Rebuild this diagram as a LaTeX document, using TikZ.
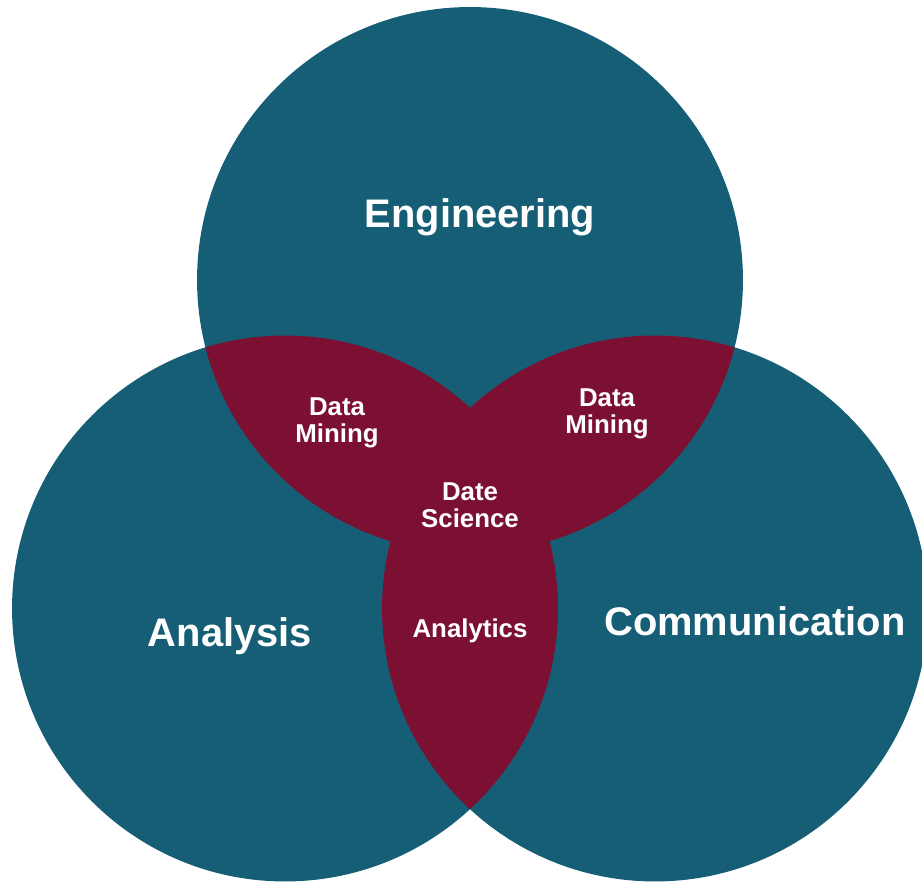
\documentclass[tikz,border=0pt]{standalone}
\usepackage{fontspec}
\setmainfont{Liberation Sans}
\definecolor{venteal}{HTML}{165E75}
\definecolor{venred}{HTML}{7B1032}

\begin{document}
\begin{tikzpicture}[x=0.02cm,y=-0.02cm,
    big/.style={text=white,font=\bfseries\fontsize{22.7}{26}\selectfont,inner sep=0pt},
    small/.style={text=white,font=\bfseries\fontsize{14.7}{15.3}\selectfont,
                  align=center,inner sep=0pt}]
  \useasboundingbox (0,0) rectangle (922,884);
  \clip (0,0) rectangle (922,884);

  \coordinate (ceng) at (470,280);
  \coordinate (cana) at (285,608.5);
  \coordinate (ccom) at (655,608.5);

  \foreach \c in {ceng,cana,ccom}
    \fill[venteal] (\c) circle[radius=5.46cm];

  % overlaps
  \begin{scope}
    \clip (ceng) circle[radius=5.46cm];
    \fill[venred] (cana) circle[radius=5.46cm];
    \fill[venred] (ccom) circle[radius=5.46cm];
  \end{scope}
  \begin{scope}
    \clip (cana) circle[radius=5.46cm];
    \fill[venred] (ccom) circle[radius=5.46cm];
  \end{scope}

  \node[big,anchor=base] (eng) at (480,228) {Engineering};
  \node[big,anchor=base] (ana) at (230,646) {Analysis};
  \node[big,anchor=base] (com) at (755,635) {Communication};

  \node[small] (dml) at (337,423) {Data\\Mining};
  \node[small] (dmr) at (607,414) {Data\\Mining};
  \node[small] (ds)  at (470,505) {Date\\Science};
  \node[small,anchor=base] (aly) at (470,637) {Analytics};
\end{tikzpicture}
\end{document}
